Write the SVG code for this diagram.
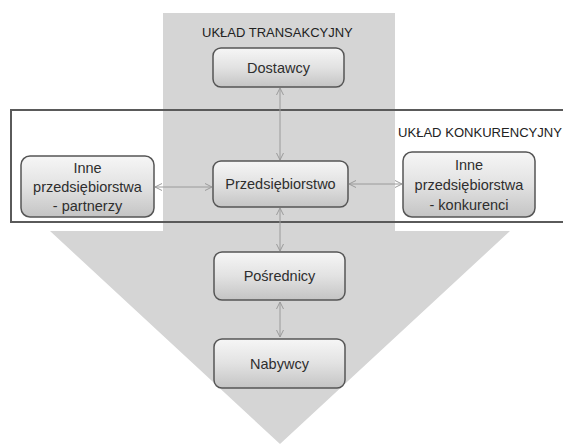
<svg xmlns="http://www.w3.org/2000/svg" width="563" height="444" viewBox="0 0 563 444">
<defs>
<linearGradient id="ng" x1="0" y1="0" x2="0" y2="1">
<stop offset="0" stop-color="#f6f6f6"/>
<stop offset="0.5" stop-color="#e2e2e2"/>
<stop offset="1" stop-color="#c4c4c4"/>
</linearGradient>
<marker id="ah" viewBox="0 0 8 8" refX="7" refY="4" markerWidth="8" markerHeight="8" markerUnits="userSpaceOnUse" orient="auto-start-reverse">
<path d="M0,0.5 L7,4 L0,7.5" fill="none" stroke="#9a9a9a" stroke-width="1"/>
</marker>
</defs>
<style>
.node{fill:url(#ng);stroke:#555555;stroke-width:1.5}
.t{font-family:"Liberation Sans",Arial,sans-serif;font-size:14.5px;fill:#2e2e2e;text-anchor:middle}
.title{font-family:"Liberation Sans",Arial,sans-serif;font-size:13px;fill:#222}
.c{stroke:#9a9a9a;stroke-width:1;fill:none;marker-start:url(#ah);marker-end:url(#ah)}
</style>
<rect width="563" height="444" fill="#ffffff"/>
<g id="background">
<path d="M163,13 L395,13 L395,231 L510,231 L280,444 L50,231 L163,231 Z" fill="#d5d5d5"/>
</g>
<g id="uklad-konkurencyjny">
<rect x="11" y="110" width="560" height="112" fill="none" stroke="#5a5a5a" stroke-width="2"/>
<text class="title" x="398" y="137" textLength="164" lengthAdjust="spacingAndGlyphs">UKŁAD KONKURENCYJNY</text>
</g>
<g id="uklad-transakcyjny">
<text class="title" x="202" y="37">UKŁAD TRANSAKCYJNY</text>
</g>
<g id="connectors">
<line class="c" x1="280" y1="88" x2="280" y2="160"/>
<line class="c" x1="280" y1="208" x2="280" y2="251"/>
<line class="c" x1="280" y1="302" x2="280" y2="337"/>
<line class="c" x1="155" y1="187" x2="212" y2="187"/>
<line class="c" x1="349" y1="184" x2="402" y2="184"/>
</g>
<g id="dostawcy">
<rect class="node" x="213" y="48" width="131" height="39" rx="8"/>
<text class="t" x="278.5" y="72.5">Dostawcy</text>
</g>
<g id="przedsiebiorstwo">
<rect class="node" x="213" y="161" width="135" height="46" rx="8"/>
<text class="t" x="280.5" y="189">Przedsiębiorstwo</text>
</g>
<g id="partnerzy">
<rect class="node" x="21" y="156" width="133" height="61" rx="9"/>
<text class="t" x="87.5" y="173">Inne</text>
<text class="t" x="87.5" y="192">przedsiębiorstwa</text>
<text class="t" x="87.5" y="211">- partnerzy</text>
</g>
<g id="konkurenci">
<rect class="node" x="403" y="152" width="132" height="65" rx="9"/>
<text class="t" x="469" y="170">Inne</text>
<text class="t" x="469" y="190">przedsiębiorstwa</text>
<text class="t" x="469" y="210">- konkurenci</text>
</g>
<g id="posrednicy">
<rect class="node" x="214" y="252" width="131" height="48" rx="8"/>
<text class="t" x="279.5" y="281">Pośrednicy</text>
</g>
<g id="nabywcy">
<rect class="node" x="214" y="339" width="131" height="49" rx="8"/>
<text class="t" x="279.5" y="368.5">Nabywcy</text>
</g>
</svg>
